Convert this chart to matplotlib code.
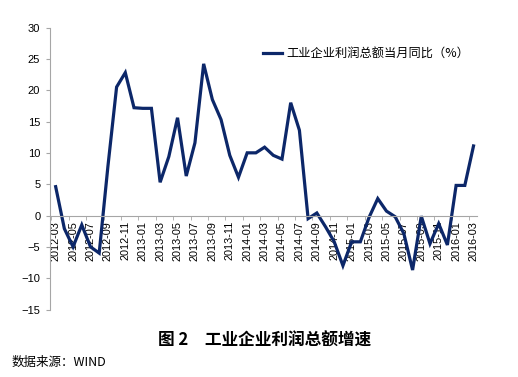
import numpy as np
import matplotlib
matplotlib.use('Agg')
import matplotlib.pyplot as plt

plt.rcParams['font.family'] = ['Liberation Sans', 'Noto Sans CJK SC']

# monthly data, 2012-03 .. 2016-03
months = ['2012-03', '2012-04', '2012-05', '2012-06', '2012-07', '2012-08', '2012-09',
          '2012-10', '2012-11', '2012-12', '2013-01', '2013-02', '2013-03', '2013-04',
          '2013-05', '2013-06', '2013-07', '2013-08', '2013-09', '2013-10', '2013-11',
          '2013-12', '2014-01', '2014-02', '2014-03', '2014-04', '2014-05', '2014-06',
          '2014-07', '2014-08', '2014-09', '2014-10', '2014-11', '2014-12', '2015-01',
          '2015-02', '2015-03', '2015-04', '2015-05', '2015-06', '2015-07', '2015-08',
          '2015-09', '2015-10', '2015-11', '2015-12', '2016-01', '2016-02', '2016-03']
profit_yoy = [4.6, -2.1, -5.0, -1.5, -5.0, -6.0, 7.8,
              20.5, 22.8, 17.2, 17.1, 17.1, 5.3, 9.4,
              15.6, 6.3, 11.6, 24.2, 18.5, 15.3, 9.6,
              6.1, 10.0, 10.0, 10.9, 9.6, 9.0, 18.0,
              13.6, -0.5, 0.4, -1.8, -4.2, -8.0, -4.2,
              -4.2, -0.3, 2.7, 0.7, -0.2, -2.9, -8.7,
              -0.1, -4.5, -1.3, -4.7, 4.8, 4.8, 11.1]

fig = plt.figure(figsize=(5.18, 3.77), dpi=100)
ax = fig.add_axes([50 / 518, 1 - 309.5 / 377, 427 / 518, 282 / 377])

x = np.arange(len(months))
ax.plot(x, profit_yoy, color='#0c2769', linewidth=2.3,
        label='工业企业利润总额当月同比（%）', solid_joinstyle='miter')

ax.set_xlim(-0.65, 48.4)
ax.set_ylim(-15, 30)
ax.set_yticks(np.arange(-15, 31, 5))

ax.spines['top'].set_visible(False)
ax.spines['right'].set_visible(False)
ax.spines['bottom'].set_position(('data', 0))
ax.spines['bottom'].set_color('#a6a6a6')
ax.spines['left'].set_color('#a6a6a6')

ax.set_xticks(x[::2])
ax.set_xticklabels(months[::2], rotation=90, fontsize=7.8)
ax.set_xticks(x[::2] - 0.5, minor=True)
ax.tick_params(axis='x', which='major', length=0, pad=4)
ax.tick_params(axis='x', which='minor', length=3, color='#a6a6a6', direction='out')
ax.tick_params(axis='y', length=3, color='#a6a6a6', labelsize=8, pad=4)

leg = ax.legend(loc='upper right', bbox_to_anchor=(1.008, 0.97), frameon=False,
                prop={'family': 'Noto Sans CJK SC', 'size': 8.8},
                handlelength=1.5, handletextpad=0.4)

fig.text(265 / 518, 1 - 341 / 377, '图 2　工业企业利润总额增速', ha='center', va='center',
         fontsize=12, fontweight='bold', family=['Noto Sans CJK SC', 'DejaVu Sans'])
fig.text(12 / 518, 1 - 362 / 377, '数据来源：WIND', ha='left', va='center',
         fontsize=9, family=['Noto Sans CJK SC', 'DejaVu Sans'])

fig.savefig('out.png', dpi=100)
